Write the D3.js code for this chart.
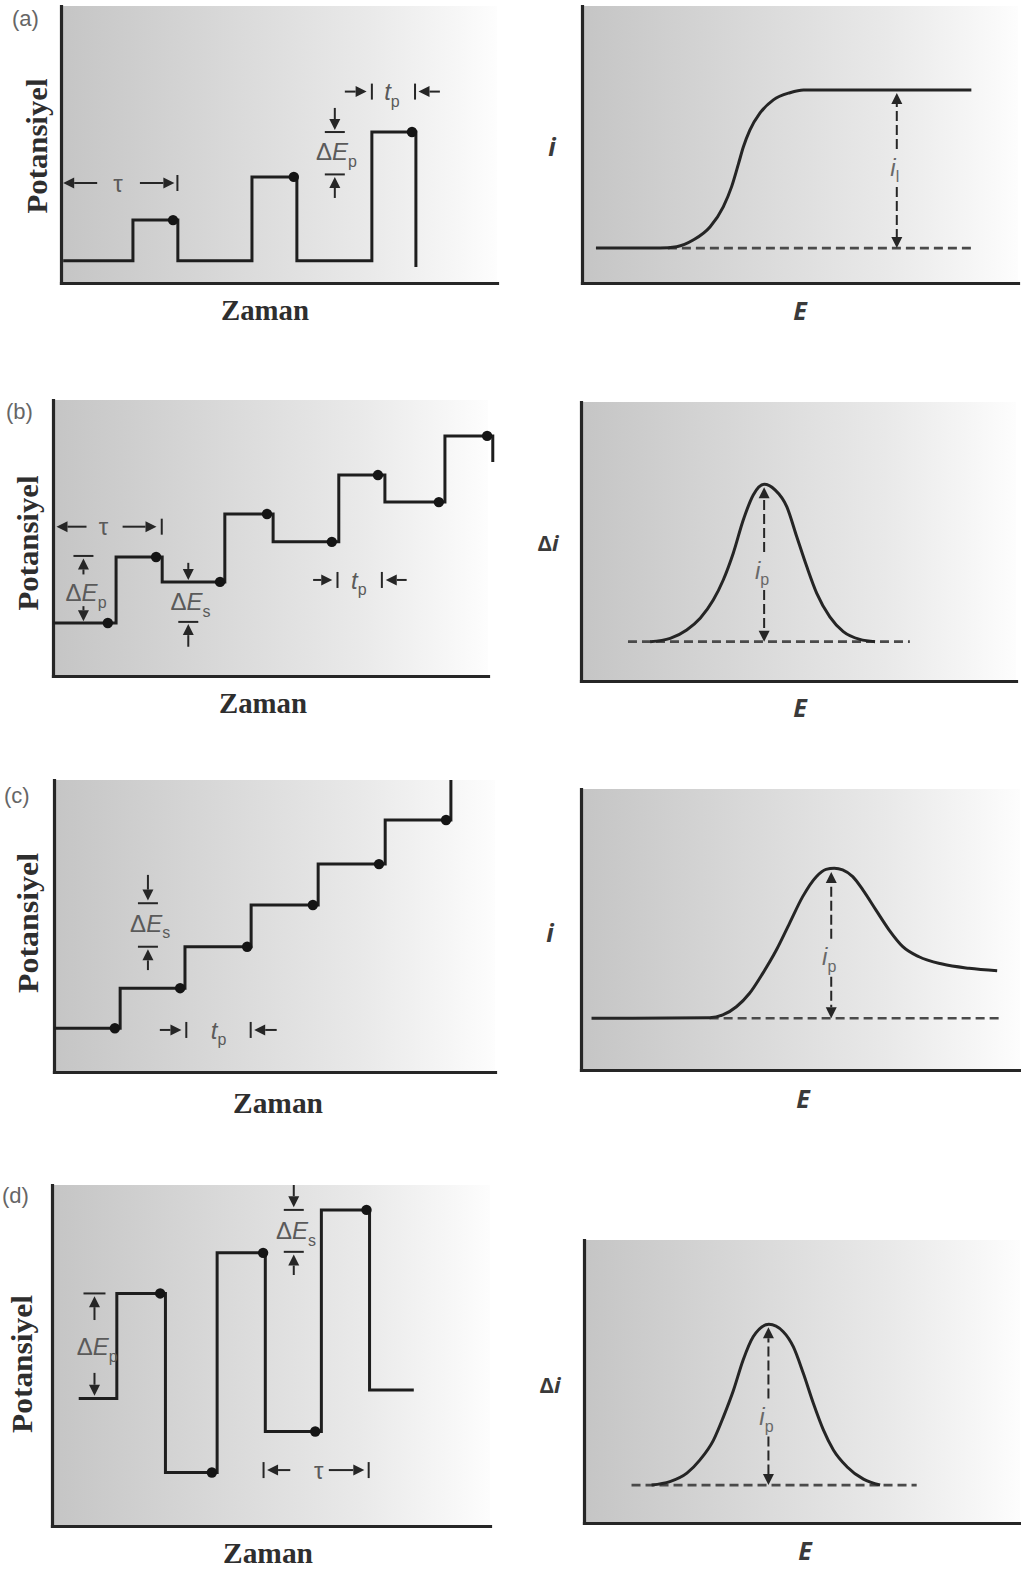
<!DOCTYPE html>
<html>
<head>
<meta charset="utf-8">
<script src="https://cdn.jsdelivr.net/npm/d3@7"></script>
<style>
  body { margin: 0; background: #ffffff; }
  svg { display: block; }
</style>
</head>
<body>
<svg id="fig" width="1021" height="1571"></svg>
<script>
// ---------------------------------------------------------------
// Pulse voltammetry: excitation waveforms (left) and responses (right).
// Every axis runs over 0..100 arbitrary units.
// ---------------------------------------------------------------

// (a) normal pulse: step vertices (time, potential) and sampling points
const npTime = [0.5, 16.5, 26.8, 43.8, 54.1, 71.3, 81.4];
const npPot  = [8, 22.7, 8, 38.3, 8, 54.5, 5.8];
const npSampleTime = [25.7, 53.4, 80.5];
const npSamplePot  = [22.7, 38.3, 54.5];
// (a) sigmoidal response i(E)
const npRespE = [3.2, 17.9, 21.7, 25.5, 29.4, 32.4, 34.3, 35.9, 37.0, 38.5, 40.8, 43.9, 47.7, 50.8, 89.3];
const npRespI = [12.6, 12.6, 13.1, 15.5, 20.3, 27.5, 34.7, 43.1, 49.1, 55.2, 61.3, 66.1, 68.7, 69.7, 69.7];
const npBaseI = 12.6;

// (b) differential pulse
const dpTime = [0, 14.5, 25.1, 39.5, 50.6, 65.7, 76.3, 90.1, 101.1];
const dpPot  = [19.2, 43.1, 34.1, 58.7, 48.6, 72.8, 63.0, 87.0, 77.5];
const dpSampleTime = [12.6, 23.7, 38.4, 49.2, 64.1, 74.7, 88.7, 99.8];
const dpSamplePot  = [19.2, 43.1, 34.1, 58.7, 48.6, 72.8, 63.0, 87.0];
// (b) peak-shaped response Δi(E)
const dpRespE = [15.9, 20.5, 24.3, 27.4, 30.4, 32.7, 35.0, 37.3, 39.6, 42.1, 44.6, 47.3, 49.6, 51.9, 54.2, 57.2, 60.3, 64.1, 67.6];
const dpRespI = [14.1, 15.3, 18.3, 22.5, 29.0, 36.2, 45.8, 57.7, 66.7, 70.5, 68.5, 62.5, 51.7, 41.0, 31.4, 23.0, 17.7, 14.9, 14.1];
const dpBaseI = 14.1;

// (c) staircase
const scTime = [0, 15.0, 29.7, 44.7, 59.9, 75.1, 90.0];
const scPot  = [15.0, 28.7, 42.9, 57.2, 71.2, 86.3, 100];
const scSampleTime = [13.8, 28.6, 43.8, 58.7, 73.7, 88.9];
const scSamplePot  = [15.0, 28.7, 42.9, 57.2, 71.2, 86.3];
// (c) response i(E) with diffusion tail
const scRespE = [2.4, 29.3, 32.3, 35.4, 38.4, 41.4, 44.5, 47.5, 50.5, 53.6, 55.8, 57.7, 59.6, 61.9, 64.2, 67.2, 70.2, 73.3, 77.0, 82.3, 88.4, 94.8];
const scRespI = [18.4, 18.6, 19.6, 22.5, 27.3, 34.4, 42.7, 52.2, 61.7, 68.8, 71.4, 71.8, 71.2, 68.8, 64.1, 56.9, 49.8, 43.9, 40.3, 37.7, 36.2, 35.3];
const scBaseI = 18.4;

// (d) square wave
const swTime = [6.1, 14.8, 25.9, 37.7, 48.7, 61.5, 72.5, 82.6];
const swPot  = [37.4, 68.2, 15.7, 80.1, 27.7, 92.7, 39.9, 39.9];
const swSampleTime = [24.7, 36.5, 48.2, 60.1, 71.8];
const swSamplePot  = [68.2, 15.7, 80.1, 27.7, 92.7];
// (d) net-current response Δi(E)
const swRespE = [15.5, 19.7, 23.6, 26.6, 29.7, 32.0, 34.3, 36.5, 38.8, 42.4, 45.7, 48.0, 50.3, 52.6, 54.9, 57.2, 60.3, 64.1, 67.9];
const swRespI = [13.4, 14.6, 17.6, 22.3, 29.3, 37.6, 47.0, 57.6, 65.8, 70.2, 67.6, 62.3, 52.9, 42.3, 32.9, 25.8, 19.9, 15.5, 13.4];
const swBaseI = 13.4;

// Text
const panelTags = ['(a)', '(b)', '(c)', '(d)'];
const timeLabel = 'Zaman';
const potLabel = 'Potansiyel';

// ---------------------------------------------------------------
const INK = '#1e1e1e', AXIS = '#262626', NOTE = '#5a5a5a', HEAD = '#262626';
const svg = d3.select('#fig');
const defs = svg.append('defs');
const grad = defs.append('linearGradient').attr('id', 'panelShade')
  .attr('x1', 0).attr('x2', 1).attr('y1', 0).attr('y2', 0);
[[0, '#c5c5c5'], [0.35, '#d7d7d7'], [0.7, '#e9e9e9'], [0.9, '#f6f6f6'], [1, '#fdfdfd']]
  .forEach(([o, c]) => grad.append('stop').attr('offset', o).attr('stop-color', c));

function makePanel(box) {
  const x = d3.scaleLinear().domain([0, 100]).range([box.left, box.right]);
  const y = d3.scaleLinear().domain([0, 100]).range([box.bottom, box.top]);
  const g = svg.append('g');
  g.append('rect')
    .attr('x', box.left).attr('y', box.top)
    .attr('width', box.right - box.left).attr('height', box.bottom - box.top)
    .attr('fill', 'url(#panelShade)');
  const axes = g.append('g');
  axes.append('g').attr('transform', `translate(0,${box.bottom})`)
    .call(d3.axisBottom(x).tickValues([]).tickSizeOuter(0));
  axes.append('g').attr('transform', `translate(${box.left},0)`)
    .call(d3.axisLeft(y).tickValues([]).tickSizeOuter(0));
  axes.selectAll('.domain').attr('stroke', AXIS).attr('stroke-width', 3.2)
    .attr('stroke-linecap', 'square');
  const marks = g.append('g');
  return { x, y, g: marks, box };
}

function stepTrace(p, times, pots, sTimes, sPots) {
  const line = d3.line().x(d => p.x(d[0])).y(d => p.y(d[1])).curve(d3.curveStepAfter);
  p.g.append('path').datum(d3.zip(times, pots)).attr('d', line)
    .attr('fill', 'none').attr('stroke', INK).attr('stroke-width', 3)
    .attr('stroke-linejoin', 'miter');
  p.g.selectAll('circle.sample').data(d3.zip(sTimes, sPots)).join('circle')
    .attr('class', 'sample').attr('cx', d => p.x(d[0])).attr('cy', d => p.y(d[1]))
    .attr('r', 5.2).attr('fill', '#151515');
}

function responseTrace(p, es, is, base, dashFrom, dashTo) {
  p.g.append('line')
    .attr('x1', p.x(dashFrom)).attr('x2', p.x(dashTo))
    .attr('y1', p.y(base)).attr('y2', p.y(base))
    .attr('stroke', '#4a4a4a').attr('stroke-width', 2.6).attr('stroke-dasharray', '9,5');
  const line = d3.line().x(d => p.x(d[0])).y(d => p.y(d[1])).curve(d3.curveMonotoneX);
  p.g.append('path').datum(d3.zip(es, is)).attr('d', line)
    .attr('fill', 'none').attr('stroke', '#252525').attr('stroke-width', 3);
}

// arrowhead with its tip at (x, y)
function head(g, x, y, dir, len = 11, half = 5.5) {
  let pts;
  if (dir === 'down') pts = [[x, y], [x - half, y - len], [x + half, y - len]];
  if (dir === 'up') pts = [[x, y], [x - half, y + len], [x + half, y + len]];
  if (dir === 'left') pts = [[x, y], [x + len, y - half], [x + len, y + half]];
  if (dir === 'right') pts = [[x, y], [x - len, y - half], [x - len, y + half]];
  g.append('path').attr('d', 'M' + pts.join('L') + 'Z').attr('fill', HEAD);
}
function seg(g, x1, y1, x2, y2, dash, w) {
  g.append('line').attr('x1', x1).attr('y1', y1).attr('x2', x2).attr('y2', y2)
    .attr('stroke', HEAD).attr('stroke-width', w || 2)
    .attr('stroke-dasharray', dash || null);
}
// arrow from (x1,y1) pointing to the tip (x2,y2), pixel space
function arrow(g, x1, y1, x2, y2, dash) {
  const len = 11;
  let dir;
  if (Math.abs(x1 - x2) < 0.01) dir = y2 > y1 ? 'down' : 'up';
  else dir = x2 > x1 ? 'right' : 'left';
  const ex = dir === 'right' ? x2 - len : dir === 'left' ? x2 + len : x2;
  const ey = dir === 'down' ? y2 - len : dir === 'up' ? y2 + len : y2;
  seg(g, x1, y1, ex, ey, dash);
  head(g, x2, y2, dir, len);
}
// short bar: 'h' horizontal bar centred on x, 'v' vertical bar centred on y
function bar(g, x, y, orient, len) {
  if (orient === 'h') seg(g, x - len / 2, y, x + len / 2, y, null, 2);
  else seg(g, x, y - len / 2, x, y + len / 2, null, 2);
}
// label made of parts: {t, it (italic), sub (subscript)}
function note(g, x, yCenter, parts, size = 24, color = NOTE) {
  const t = g.append('text').attr('x', x).attr('y', yCenter + size * 0.36)
    .attr('text-anchor', 'middle').attr('fill', color)
    .attr('font-family', '"Liberation Sans", Arial, sans-serif').attr('font-size', size);
  parts.forEach(pt => {
    const s = t.append('tspan').text(pt.t);
    if (pt.it) s.attr('font-style', 'italic');
    if (pt.sub) s.attr('font-size', Math.round(size * 0.68)).attr('dy', size * 0.28);
  });
  return t;
}
const DEp = [{ t: 'Δ' }, { t: 'E', it: true }, { t: 'p', sub: true }];
const DEs = [{ t: 'Δ' }, { t: 'E', it: true }, { t: 's', sub: true }];
const TP = [{ t: 't', it: true }, { t: 'p', sub: true }];
const TAU = [{ t: 'τ' }];

// vertical double arrow with a gap holding a label
function peakArrow(p, xv, base, top, labelY, labelParts) {
  const X = p.x(xv), yb = p.y(base), yt = p.y(top) + 3, yl = p.y(labelY);
  arrow(p.g, X, yl - 18, X, yt, '10,4');
  arrow(p.g, X, yl + 20, X, yb, '10,4');
  note(p.g, X - 2, yl, labelParts, 24, '#686868');
}

// axis titles
function timeTitle(x, baseline, len) {
  svg.append('text').attr('x', x).attr('y', baseline).attr('text-anchor', 'middle')
    .attr('font-family', '"Liberation Serif", "Times New Roman", serif')
    .attr('font-weight', 'bold').attr('font-size', 30).attr('fill', '#2e2e2e')
    .attr('textLength', len).attr('lengthAdjust', 'spacingAndGlyphs').text(timeLabel);
}
function potTitle(cx, cy, len) {
  svg.append('text').attr('transform', `translate(${cx},${cy}) rotate(-90)`)
    .attr('text-anchor', 'middle').attr('dominant-baseline', 'central')
    .attr('font-family', '"Liberation Serif", "Times New Roman", serif')
    .attr('font-weight', 'bold').attr('font-size', 29).attr('fill', '#2e2e2e')
    .attr('textLength', len).attr('lengthAdjust', 'spacingAndGlyphs').text(potLabel);
}
function tag(x, baseline, s) {
  svg.append('text').attr('x', x).attr('y', baseline)
    .attr('font-family', '"Liberation Sans", Arial, sans-serif')
    .attr('font-size', 22).attr('fill', '#666').text(s);
}
function respTitle(x, baseline, parts, size) {
  const t = svg.append('text').attr('x', x).attr('y', baseline).attr('text-anchor', 'middle')
    .attr('font-family', '"Open Sans", "DejaVu Sans", sans-serif')
    .attr('font-weight', 700).attr('font-size', size).attr('fill', '#3a3a3a');
  parts.forEach(pt => {
    const s = t.append('tspan').text(pt.t);
    if (pt.it) s.attr('font-style', 'italic');
  });
}
const I_LBL = [{ t: 'i', it: true }];
const DI_LBL = [{ t: 'Δ' }, { t: 'i', it: true }];
const E_LBL = [{ t: 'E', it: true }];

// ================= (a) normal pulse =================
{
  const p = makePanel({ left: 61, right: 497, top: 6, bottom: 283 });
  stepTrace(p, npTime, npPot, npSampleTime, npSamplePot);
  const g = p.g, x = p.x, y = p.y;
  // τ
  arrow(g, x(8.3), y(36.1), x(0.5), y(36.1));
  note(g, x(13.1), y(36.1), TAU);
  arrow(g, x(18.1), y(36.1), x(26.0), y(36.1));
  bar(g, x(26.7), y(36.1), 'v', 16);
  // ΔEp between the second and third pulse heights
  arrow(g, x(62.8), y(63.2), x(62.8), y(55.2));
  bar(g, x(62.8), y(54.5), 'h', 20);
  note(g, x(63.2), y(47.4), DEp);
  bar(g, x(62.8), y(39.2), 'h', 20);
  arrow(g, x(62.8), y(30.7), x(62.8), y(38.3));
  // tp
  arrow(g, x(65.1), y(69.1), x(70.1), y(69.1));
  bar(g, x(71.3), y(69.1), 'v', 16);
  note(g, x(75.9), y(69.1), TP);
  bar(g, x(81.2), y(69.1), 'v', 16);
  arrow(g, x(86.9), y(69.1), x(82.0), y(69.1));
}
{
  const p = makePanel({ left: 582, right: 1018, top: 6, bottom: 283 });
  responseTrace(p, npRespE, npRespI, npBaseI, 19.7, 89.3);
  peakArrow(p, 72.2, npBaseI, 69.7, 41.9, [{ t: 'i', it: true }, { t: 'l', sub: true }]);
}

// ================= (b) differential pulse =================
{
  const p = makePanel({ left: 53, right: 488, top: 400, bottom: 676 });
  stepTrace(p, dpTime, dpPot, dpSampleTime, dpSamplePot);
  const g = p.g, x = p.x, y = p.y;
  // τ
  arrow(g, x(7.7), y(54.1), x(0.8), y(54.1));
  note(g, x(11.6), y(54.1), TAU);
  arrow(g, x(16.0), y(54.1), x(23.8), y(54.1));
  bar(g, x(25.0), y(54.1), 'v', 16);
  // ΔEp on the first pulse
  bar(g, x(7.0), y(43.5), 'h', 20);
  arrow(g, x(7.0), y(36.8), x(7.0), y(42.6));
  note(g, x(7.6), y(30.2), DEp);
  arrow(g, x(7.0), y(25.3), x(7.0), y(19.8));
  // ΔEs between successive base levels
  arrow(g, x(31.1), y(41.0), x(31.1), y(34.8));
  note(g, x(31.6), y(27.0), DEs);
  bar(g, x(31.1), y(19.6), 'h', 20);
  arrow(g, x(31.1), y(10.6), x(31.1), y(18.8));
  // tp
  arrow(g, x(59.8), y(34.8), x(64.2), y(34.8));
  bar(g, x(65.4), y(34.8), 'v', 16);
  note(g, x(70.3), y(34.8), TP);
  bar(g, x(75.6), y(34.8), 'v', 16);
  arrow(g, x(81.3), y(34.8), x(76.5), y(34.8));
}
{
  const p = makePanel({ left: 581, right: 1016, top: 402, bottom: 681 });
  responseTrace(p, dpRespE, dpRespI, dpBaseI, 10.8, 75.6);
  peakArrow(p, 42.1, dpBaseI, 70.5, 39.8, [{ t: 'i', it: true }, { t: 'p', sub: true }]);
}

// ================= (c) staircase =================
{
  const p = makePanel({ left: 54, right: 495, top: 780, bottom: 1072 });
  stepTrace(p, scTime, scPot, scSampleTime, scSamplePot);
  const g = p.g, x = p.x, y = p.y;
  // ΔEs
  arrow(g, x(21.3), y(67.5), x(21.3), y(58.7));
  bar(g, x(21.3), y(57.8), 'h', 20);
  note(g, x(21.8), y(51.0), DEs);
  bar(g, x(21.3), y(42.9), 'h', 20);
  arrow(g, x(21.3), y(34.9), x(21.3), y(42.0));
  // tp
  arrow(g, x(24.0), y(14.4), x(28.9), y(14.4));
  bar(g, x(30.0), y(14.4), 'v', 16);
  note(g, x(37.3), y(14.4), TP);
  bar(g, x(44.6), y(14.4), 'v', 16);
  arrow(g, x(50.5), y(14.4), x(45.4), y(14.4));
}
{
  const p = makePanel({ left: 581, right: 1020, top: 789, bottom: 1070 });
  responseTrace(p, scRespE, scRespI, scBaseI, 29.3, 95.2);
  peakArrow(p, 57.0, scBaseI, 71.5, 40.3, [{ t: 'i', it: true }, { t: 'p', sub: true }]);
}

// ================= (d) square wave =================
{
  const p = makePanel({ left: 52, right: 490, top: 1185, bottom: 1526 });
  stepTrace(p, swTime, swPot, swSampleTime, swSamplePot);
  const g = p.g, x = p.x, y = p.y;
  // ΔEp
  bar(g, x(9.7), y(68.2), 'h', 22);
  arrow(g, x(9.7), y(60.4), x(9.7), y(67.4));
  note(g, x(10.3), y(52.6), DEp);
  arrow(g, x(9.7), y(44.9), x(9.7), y(38.2));
  // ΔEs
  arrow(g, x(55.2), y(100), x(55.2), y(93.5));
  bar(g, x(55.2), y(92.7), 'h', 20);
  note(g, x(55.7), y(86.6), DEs);
  bar(g, x(55.2), y(80.4), 'h', 20);
  arrow(g, x(55.2), y(73.6), x(55.2), y(79.6));
  // τ
  bar(g, x(48.3), y(16.4), 'v', 16);
  arrow(g, x(54.4), y(16.4), x(49.1), y(16.4));
  note(g, x(60.9), y(16.4), TAU);
  arrow(g, x(63.2), y(16.4), x(71.3), y(16.4));
  bar(g, x(72.3), y(16.4), 'v', 16);
}
{
  const p = makePanel({ left: 584, right: 1020, top: 1240, bottom: 1523 });
  responseTrace(p, swRespE, swRespI, swBaseI, 10.9, 76.3);
  peakArrow(p, 42.3, swBaseI, 70.2, 37.6, [{ t: 'i', it: true }, { t: 'p', sub: true }]);
}

// ================= titles and tags =================
tag(12, 26, panelTags[0]);
tag(6, 419, panelTags[1]);
tag(4, 803, panelTags[2]);
tag(2, 1203, panelTags[3]);

potTitle(37, 146, 135);
potTitle(28, 543, 135);
potTitle(28, 923, 140);
potTitle(22, 1364, 138);

timeTitle(265, 320, 88);
timeTitle(263, 713, 88);
timeTitle(278, 1113, 90);
timeTitle(268, 1563, 90);

respTitle(552, 156, I_LBL, 25);
respTitle(548, 551, DI_LBL, 22);
respTitle(550, 942, I_LBL, 25);
respTitle(550, 1393, DI_LBL, 22);

respTitle(800, 320, E_LBL, 25);
respTitle(800, 717, E_LBL, 25);
respTitle(803, 1108, E_LBL, 25);
respTitle(805, 1560, E_LBL, 25);
</script>
</body>
</html>
